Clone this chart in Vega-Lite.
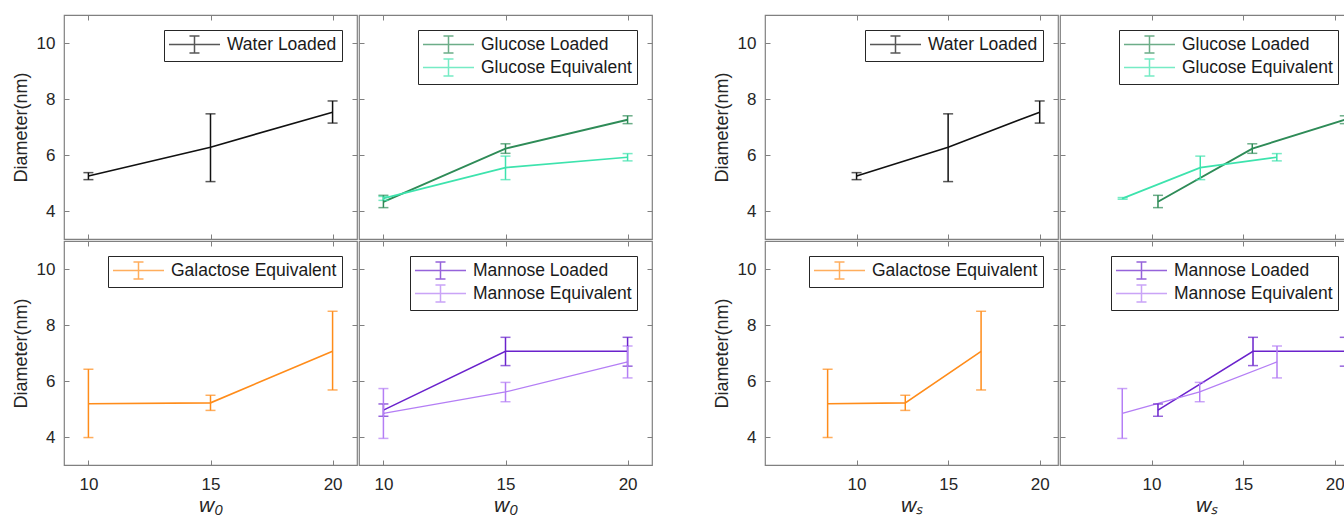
{
  "$schema": "https://vega.github.io/schema/vega-lite/v6.json",
  "background": "white",
  "padding": {"left": 11, "top": 13, "right": 0, "bottom": 0},
  "config": {
    "view": {"stroke": "#808080", "strokeWidth": 1.2},
    "axis": {"domain": false, "grid": false, "tickSize": -5, "tickColor": "#808080", "tickWidth": 1, "labelFontSize": 17, "labelFont": "Liberation Sans", "labelColor": "#262626", "titleFont": "Liberation Sans", "titleFontSize": 18, "titleFontWeight": "normal", "titleColor": "#262626", "labelPadding": 14, "titlePadding": 6},
    "axisBottom": {"titleFontSize": 21, "titlePadding": 2, "labelPadding": 16},
    "legend": {"orient": "top-right", "offset": 15, "padding": 5, "strokeColor": "#262626", "fillColor": "#ffffff", "labelFontSize": 17.5, "labelFont": "Liberation Sans", "labelColor": "#1a1a1a", "symbolSize": 289, "symbolStrokeWidth": 1.5, "labelOffset": 39, "rowPadding": 0, "symbolFillColor": "transparent", "labelLimit": 400}
  },
  "data": {"values": [
    {"g": "A", "p": 1, "s": "Water Loaded", "x": 10, "y": 5.25, "lo": 5.12, "hi": 5.37},
    {"g": "A", "p": 1, "s": "Water Loaded", "x": 15, "y": 6.28, "lo": 5.05, "hi": 7.47},
    {"g": "A", "p": 1, "s": "Water Loaded", "x": 20, "y": 7.53, "lo": 7.14, "hi": 7.93},
    {"g": "A", "p": 2, "s": "Glucose Loaded", "x": 10, "y": 4.33, "lo": 4.12, "hi": 4.56},
    {"g": "A", "p": 2, "s": "Glucose Loaded", "x": 15, "y": 6.23, "lo": 6.06, "hi": 6.40},
    {"g": "A", "p": 2, "s": "Glucose Loaded", "x": 20, "y": 7.26, "lo": 7.12, "hi": 7.40},
    {"g": "A", "p": 2, "s": "Glucose Equivalent", "x": 10, "y": 4.45, "lo": 4.38, "hi": 4.52},
    {"g": "A", "p": 2, "s": "Glucose Equivalent", "x": 15, "y": 5.55, "lo": 5.12, "hi": 5.96},
    {"g": "A", "p": 2, "s": "Glucose Equivalent", "x": 20, "y": 5.92, "lo": 5.79, "hi": 6.05},
    {"g": "A", "p": 3, "s": "Galactose Equivalent", "x": 10, "y": 5.19, "lo": 3.98, "hi": 6.42},
    {"g": "A", "p": 3, "s": "Galactose Equivalent", "x": 15, "y": 5.22, "lo": 4.95, "hi": 5.49},
    {"g": "A", "p": 3, "s": "Galactose Equivalent", "x": 20, "y": 7.06, "lo": 5.68, "hi": 8.49},
    {"g": "A", "p": 4, "s": "Mannose Loaded", "x": 10, "y": 4.96, "lo": 4.74, "hi": 5.18},
    {"g": "A", "p": 4, "s": "Mannose Loaded", "x": 15, "y": 7.06, "lo": 6.55, "hi": 7.56},
    {"g": "A", "p": 4, "s": "Mannose Loaded", "x": 20, "y": 7.06, "lo": 6.53, "hi": 7.56},
    {"g": "A", "p": 4, "s": "Mannose Equivalent", "x": 10, "y": 4.84, "lo": 3.95, "hi": 5.73},
    {"g": "A", "p": 4, "s": "Mannose Equivalent", "x": 15, "y": 5.61, "lo": 5.26, "hi": 5.95},
    {"g": "A", "p": 4, "s": "Mannose Equivalent", "x": 20, "y": 6.68, "lo": 6.11, "hi": 7.25},
    {"g": "B", "p": 1, "s": "Water Loaded", "x": 10, "y": 5.25, "lo": 5.12, "hi": 5.37},
    {"g": "B", "p": 1, "s": "Water Loaded", "x": 15, "y": 6.28, "lo": 5.05, "hi": 7.47},
    {"g": "B", "p": 1, "s": "Water Loaded", "x": 20, "y": 7.53, "lo": 7.14, "hi": 7.93},
    {"g": "B", "p": 2, "s": "Glucose Loaded", "x": 10.35, "y": 4.33, "lo": 4.12, "hi": 4.56},
    {"g": "B", "p": 2, "s": "Glucose Loaded", "x": 15.5, "y": 6.23, "lo": 6.06, "hi": 6.40},
    {"g": "B", "p": 2, "s": "Glucose Loaded", "x": 20.55, "y": 7.26, "lo": 7.12, "hi": 7.40},
    {"g": "B", "p": 2, "s": "Glucose Equivalent", "x": 8.42, "y": 4.45, "lo": 4.42, "hi": 4.48},
    {"g": "B", "p": 2, "s": "Glucose Equivalent", "x": 12.66, "y": 5.55, "lo": 5.12, "hi": 5.96},
    {"g": "B", "p": 2, "s": "Glucose Equivalent", "x": 16.84, "y": 5.92, "lo": 5.79, "hi": 6.05},
    {"g": "B", "p": 3, "s": "Galactose Equivalent", "x": 8.42, "y": 5.19, "lo": 3.98, "hi": 6.42},
    {"g": "B", "p": 3, "s": "Galactose Equivalent", "x": 12.66, "y": 5.22, "lo": 4.95, "hi": 5.49},
    {"g": "B", "p": 3, "s": "Galactose Equivalent", "x": 16.8, "y": 7.06, "lo": 5.68, "hi": 8.49},
    {"g": "B", "p": 4, "s": "Mannose Loaded", "x": 10.35, "y": 4.96, "lo": 4.74, "hi": 5.18},
    {"g": "B", "p": 4, "s": "Mannose Loaded", "x": 15.54, "y": 7.06, "lo": 6.55, "hi": 7.56},
    {"g": "B", "p": 4, "s": "Mannose Loaded", "x": 20.55, "y": 7.06, "lo": 6.53, "hi": 7.56},
    {"g": "B", "p": 4, "s": "Mannose Equivalent", "x": 8.4, "y": 4.84, "lo": 3.95, "hi": 5.73},
    {"g": "B", "p": 4, "s": "Mannose Equivalent", "x": 12.63, "y": 5.61, "lo": 5.26, "hi": 5.95},
    {"g": "B", "p": 4, "s": "Mannose Equivalent", "x": 16.85, "y": 6.68, "lo": 6.11, "hi": 7.25}
  ]},
  "resolve": {"scale": {"color": "independent"}, "legend": {"color": "independent"}},
  "spacing": 58,
  "hconcat": [
    {
      "resolve": {"scale": {"color": "independent"}, "legend": {"color": "independent"}},
      "spacing": -8,
      "vconcat": [
        {
          "resolve": {"scale": {"color": "independent"}, "legend": {"color": "independent"}},
          "spacing": -8,
          "hconcat": [
            {
              "width": 293, "height": 224,
              "transform": [{"filter": "datum.g === 'A' && datum.p === 1"}],
              "encoding": {
                "x": {"field": "x", "type": "quantitative", "scale": {"domain": [9, 21], "nice": false, "zero": false}, "axis": {"orient": "bottom", "values": [10, 15, 20], "labels": false, "title": null}},
                "color": {"field": "s", "type": "nominal", "scale": {"domain": ["Water Loaded"], "range": ["#111111"]}, "legend": {"title": null, "symbolType": "M-1.118,0H4.882M1.882,-1V1M1.29,-1H2.47M1.29,1H2.47"}}
              },
              "layer": [
                {"mark": {"type": "line", "strokeWidth": 1.6}, "encoding": {"y": {"field": "y", "type": "quantitative", "scale": {"domain": [3, 11], "nice": false, "zero": false}, "axis": {"orient": "left", "values": [4, 6, 8, 10], "title": "Diameter(nm)"}}}},
                {"mark": {"type": "errorbar", "thickness": 1.5, "size": 10, "ticks": true}, "encoding": {"x": {"field": "x", "type": "quantitative", "axis": {"orient": "top", "values": [10, 15, 20], "labels": false, "title": null}}, "y": {"field": "lo", "type": "quantitative", "axis": {"orient": "right", "values": [4, 6, 8, 10], "labels": false, "title": null}}, "y2": {"field": "hi"}}}
              ],
              "resolve": {"axis": {"x": "independent", "y": "independent"}}
            },
            {
              "width": 293, "height": 224,
              "transform": [{"filter": "datum.g === 'A' && datum.p === 2"}],
              "encoding": {
                "x": {"field": "x", "type": "quantitative", "scale": {"domain": [9, 21], "nice": false, "zero": false}, "axis": {"orient": "bottom", "values": [10, 15, 20], "labels": false, "title": null}},
                "color": {"field": "s", "type": "nominal", "scale": {"domain": ["Glucose Loaded", "Glucose Equivalent"], "range": ["#2e8b57", "#3de3ad"]}, "legend": {"title": null, "symbolType": "M-1.118,0H4.882M1.882,-1V1M1.29,-1H2.47M1.29,1H2.47"}}
              },
              "layer": [
                {"mark": {"type": "line"}, "encoding": {"y": {"field": "y", "type": "quantitative", "scale": {"domain": [3, 11], "nice": false, "zero": false}, "axis": {"orient": "left", "values": [4, 6, 8, 10], "labels": false, "title": null}}, "strokeWidth": {"field": "s", "type": "nominal", "scale": {"domain": ["Glucose Loaded", "Glucose Equivalent"], "range": [1.9, 1.3]}, "legend": null}}},
                {"mark": {"type": "errorbar", "thickness": 1.5, "size": 10, "ticks": true}, "encoding": {"x": {"field": "x", "type": "quantitative", "axis": {"orient": "top", "values": [10, 15, 20], "labels": false, "title": null}}, "y": {"field": "lo", "type": "quantitative", "axis": {"orient": "right", "values": [4, 6, 8, 10], "labels": false, "title": null}}, "y2": {"field": "hi"}}}
              ],
              "resolve": {"axis": {"x": "independent", "y": "independent"}}
            }
          ]
        },
        {
          "resolve": {"scale": {"color": "independent"}, "legend": {"color": "independent"}},
          "spacing": -8,
          "hconcat": [
            {
              "width": 293, "height": 224,
              "transform": [{"filter": "datum.g === 'A' && datum.p === 3"}],
              "encoding": {
                "x": {"field": "x", "type": "quantitative", "scale": {"domain": [9, 21], "nice": false, "zero": false}, "axis": {"orient": "bottom", "values": [10, 15, 20], "title": "w₀", "titleFontStyle": "italic"}},
                "color": {"field": "s", "type": "nominal", "scale": {"domain": ["Galactose Equivalent"], "range": ["#ff8c1a"]}, "legend": {"title": null, "symbolType": "M-1.118,0H4.882M1.882,-1V1M1.29,-1H2.47M1.29,1H2.47"}}
              },
              "layer": [
                {"mark": {"type": "line", "strokeWidth": 1.6}, "encoding": {"y": {"field": "y", "type": "quantitative", "scale": {"domain": [3, 11], "nice": false, "zero": false}, "axis": {"orient": "left", "values": [4, 6, 8, 10], "title": "Diameter(nm)"}}}},
                {"mark": {"type": "errorbar", "thickness": 1.5, "size": 10, "ticks": true}, "encoding": {"x": {"field": "x", "type": "quantitative", "axis": {"orient": "top", "values": [10, 15, 20], "labels": false, "title": null}}, "y": {"field": "lo", "type": "quantitative", "axis": {"orient": "right", "values": [4, 6, 8, 10], "labels": false, "title": null}}, "y2": {"field": "hi"}}}
              ],
              "resolve": {"axis": {"x": "independent", "y": "independent"}}
            },
            {
              "width": 293, "height": 224,
              "transform": [{"filter": "datum.g === 'A' && datum.p === 4"}],
              "encoding": {
                "x": {"field": "x", "type": "quantitative", "scale": {"domain": [9, 21], "nice": false, "zero": false}, "axis": {"orient": "bottom", "values": [10, 15, 20], "title": "w₀", "titleFontStyle": "italic"}},
                "color": {"field": "s", "type": "nominal", "scale": {"domain": ["Mannose Loaded", "Mannose Equivalent"], "range": ["#6a22cc", "#b47ef5"]}, "legend": {"title": null, "symbolType": "M-1.118,0H4.882M1.882,-1V1M1.29,-1H2.47M1.29,1H2.47"}}
              },
              "layer": [
                {"mark": {"type": "line"}, "encoding": {"y": {"field": "y", "type": "quantitative", "scale": {"domain": [3, 11], "nice": false, "zero": false}, "axis": {"orient": "left", "values": [4, 6, 8, 10], "labels": false, "title": null}}, "strokeWidth": {"field": "s", "type": "nominal", "scale": {"domain": ["Mannose Loaded", "Mannose Equivalent"], "range": [1.9, 1.3]}, "legend": null}}},
                {"mark": {"type": "errorbar", "thickness": 1.5, "size": 10, "ticks": true}, "encoding": {"x": {"field": "x", "type": "quantitative", "axis": {"orient": "top", "values": [10, 15, 20], "labels": false, "title": null}}, "y": {"field": "lo", "type": "quantitative", "axis": {"orient": "right", "values": [4, 6, 8, 10], "labels": false, "title": null}}, "y2": {"field": "hi"}}}
              ],
              "resolve": {"axis": {"x": "independent", "y": "independent"}}
            }
          ]
        }
      ]
    },
    {
      "resolve": {"scale": {"color": "independent"}, "legend": {"color": "independent"}},
      "spacing": -8,
      "vconcat": [
        {
          "resolve": {"scale": {"color": "independent"}, "legend": {"color": "independent"}},
          "spacing": -8,
          "hconcat": [
            {
              "width": 293, "height": 224,
              "transform": [{"filter": "datum.g === 'B' && datum.p === 1"}],
              "encoding": {
                "x": {"field": "x", "type": "quantitative", "scale": {"domain": [5, 21], "nice": false, "zero": false}, "axis": {"orient": "bottom", "values": [10, 15, 20], "labels": false, "title": null}},
                "color": {"field": "s", "type": "nominal", "scale": {"domain": ["Water Loaded"], "range": ["#111111"]}, "legend": {"title": null, "symbolType": "M-1.118,0H4.882M1.882,-1V1M1.29,-1H2.47M1.29,1H2.47"}}
              },
              "layer": [
                {"mark": {"type": "line", "strokeWidth": 1.6}, "encoding": {"y": {"field": "y", "type": "quantitative", "scale": {"domain": [3, 11], "nice": false, "zero": false}, "axis": {"orient": "left", "values": [4, 6, 8, 10], "title": "Diameter(nm)"}}}},
                {"mark": {"type": "errorbar", "thickness": 1.5, "size": 10, "ticks": true}, "encoding": {"x": {"field": "x", "type": "quantitative", "axis": {"orient": "top", "values": [10, 15, 20], "labels": false, "title": null}}, "y": {"field": "lo", "type": "quantitative", "axis": {"orient": "right", "values": [4, 6, 8, 10], "labels": false, "title": null}}, "y2": {"field": "hi"}}}
              ],
              "resolve": {"axis": {"x": "independent", "y": "independent"}}
            },
            {
              "width": 293, "height": 224,
              "transform": [{"filter": "datum.g === 'B' && datum.p === 2"}],
              "encoding": {
                "x": {"field": "x", "type": "quantitative", "scale": {"domain": [5, 21], "nice": false, "zero": false}, "axis": {"orient": "bottom", "values": [10, 15, 20], "labels": false, "title": null}},
                "color": {"field": "s", "type": "nominal", "scale": {"domain": ["Glucose Loaded", "Glucose Equivalent"], "range": ["#2e8b57", "#3de3ad"]}, "legend": {"title": null, "symbolType": "M-1.118,0H4.882M1.882,-1V1M1.29,-1H2.47M1.29,1H2.47"}}
              },
              "layer": [
                {"mark": {"type": "line"}, "encoding": {"y": {"field": "y", "type": "quantitative", "scale": {"domain": [3, 11], "nice": false, "zero": false}, "axis": {"orient": "left", "values": [4, 6, 8, 10], "labels": false, "title": null}}, "strokeWidth": {"field": "s", "type": "nominal", "scale": {"domain": ["Glucose Loaded", "Glucose Equivalent"], "range": [1.9, 1.3]}, "legend": null}}},
                {"mark": {"type": "errorbar", "thickness": 1.5, "size": 10, "ticks": true}, "encoding": {"x": {"field": "x", "type": "quantitative", "axis": {"orient": "top", "values": [10, 15, 20], "labels": false, "title": null}}, "y": {"field": "lo", "type": "quantitative", "axis": {"orient": "right", "values": [4, 6, 8, 10], "labels": false, "title": null}}, "y2": {"field": "hi"}}}
              ],
              "resolve": {"axis": {"x": "independent", "y": "independent"}}
            }
          ]
        },
        {
          "resolve": {"scale": {"color": "independent"}, "legend": {"color": "independent"}},
          "spacing": -8,
          "hconcat": [
            {
              "width": 293, "height": 224,
              "transform": [{"filter": "datum.g === 'B' && datum.p === 3"}],
              "encoding": {
                "x": {"field": "x", "type": "quantitative", "scale": {"domain": [5, 21], "nice": false, "zero": false}, "axis": {"orient": "bottom", "values": [10, 15, 20], "title": "wₛ", "titleFontStyle": "italic"}},
                "color": {"field": "s", "type": "nominal", "scale": {"domain": ["Galactose Equivalent"], "range": ["#ff8c1a"]}, "legend": {"title": null, "symbolType": "M-1.118,0H4.882M1.882,-1V1M1.29,-1H2.47M1.29,1H2.47"}}
              },
              "layer": [
                {"mark": {"type": "line", "strokeWidth": 1.6}, "encoding": {"y": {"field": "y", "type": "quantitative", "scale": {"domain": [3, 11], "nice": false, "zero": false}, "axis": {"orient": "left", "values": [4, 6, 8, 10], "title": "Diameter(nm)"}}}},
                {"mark": {"type": "errorbar", "thickness": 1.5, "size": 10, "ticks": true}, "encoding": {"x": {"field": "x", "type": "quantitative", "axis": {"orient": "top", "values": [10, 15, 20], "labels": false, "title": null}}, "y": {"field": "lo", "type": "quantitative", "axis": {"orient": "right", "values": [4, 6, 8, 10], "labels": false, "title": null}}, "y2": {"field": "hi"}}}
              ],
              "resolve": {"axis": {"x": "independent", "y": "independent"}}
            },
            {
              "width": 293, "height": 224,
              "transform": [{"filter": "datum.g === 'B' && datum.p === 4"}],
              "encoding": {
                "x": {"field": "x", "type": "quantitative", "scale": {"domain": [5, 21], "nice": false, "zero": false}, "axis": {"orient": "bottom", "values": [10, 15, 20], "title": "wₛ", "titleFontStyle": "italic"}},
                "color": {"field": "s", "type": "nominal", "scale": {"domain": ["Mannose Loaded", "Mannose Equivalent"], "range": ["#6a22cc", "#b47ef5"]}, "legend": {"title": null, "symbolType": "M-1.118,0H4.882M1.882,-1V1M1.29,-1H2.47M1.29,1H2.47"}}
              },
              "layer": [
                {"mark": {"type": "line"}, "encoding": {"y": {"field": "y", "type": "quantitative", "scale": {"domain": [3, 11], "nice": false, "zero": false}, "axis": {"orient": "left", "values": [4, 6, 8, 10], "labels": false, "title": null}}, "strokeWidth": {"field": "s", "type": "nominal", "scale": {"domain": ["Mannose Loaded", "Mannose Equivalent"], "range": [1.9, 1.3]}, "legend": null}}},
                {"mark": {"type": "errorbar", "thickness": 1.5, "size": 10, "ticks": true}, "encoding": {"x": {"field": "x", "type": "quantitative", "axis": {"orient": "top", "values": [10, 15, 20], "labels": false, "title": null}}, "y": {"field": "lo", "type": "quantitative", "axis": {"orient": "right", "values": [4, 6, 8, 10], "labels": false, "title": null}}, "y2": {"field": "hi"}}}
              ],
              "resolve": {"axis": {"x": "independent", "y": "independent"}}
            }
          ]
        }
      ]
    }
  ]
}
